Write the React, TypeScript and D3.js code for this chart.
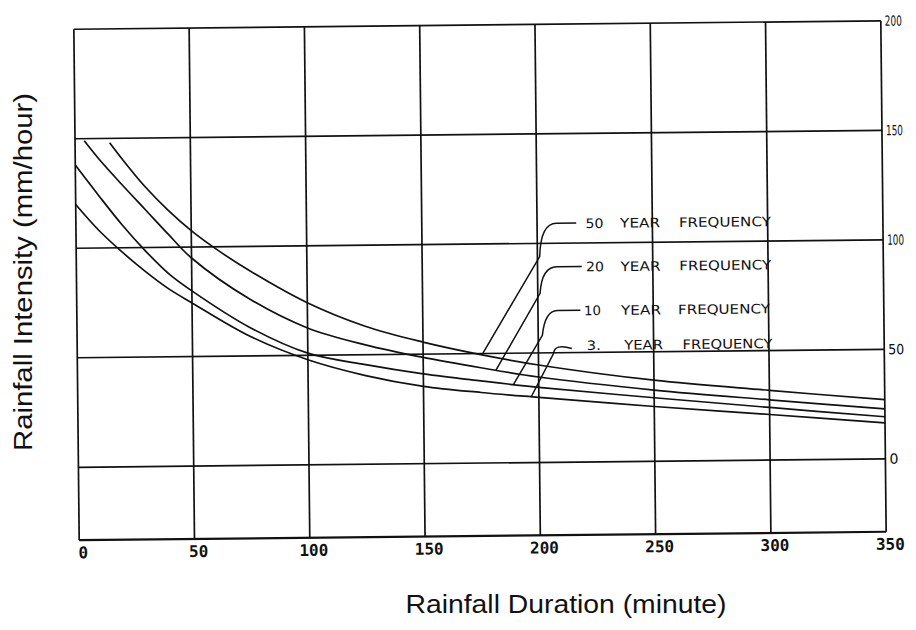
import React from 'react';
import * as d3 from 'd3';

// Axis ticks
const durationTicks = [0, 50, 100, 150, 200, 250, 300, 350];
const intensityTicks = [0, 50, 100, 150, 200];

// 50 year frequency
const dur50 = [15, 20, 30, 40, 50, 60, 75, 100, 125, 150, 175, 200, 250, 300, 350];
const int50 = [148, 141, 128, 117, 107.5, 99.5, 89, 74, 63, 55.5, 49.5, 44.5, 37, 31.8, 27];
// 20 year frequency
const dur20 = [4, 10, 20, 30, 40, 50, 75, 100, 125, 150, 175, 200, 250, 300, 350];
const int20 = [149, 141, 129, 117.5, 106, 95, 76, 62.5, 54.5, 48.5, 43.5, 39, 32.5, 27.5, 22.8];
// 10 year frequency
const dur10 = [0, 10, 20, 30, 40, 50, 75, 100, 125, 150, 175, 200, 250, 300, 350];
const int10 = [138, 124, 110.5, 98.5, 88, 80, 63, 51, 45.5, 41, 37.5, 34.3, 29, 24, 19.2];
// 3 year frequency
const dur3 = [0, 10, 20, 30, 40, 50, 75, 100, 125, 150, 175, 200, 250, 300, 350];
const int3 = [120, 108, 98, 89, 81, 74.5, 59, 48, 40.5, 35.3, 32.2, 29.7, 25, 20.8, 16.4];

const seriesNames = ['50', '20', '10', '3.'];

export default function App() {
  const W = 916, H = 630;
  const L = 76.5, R = 883.5, T = 25, B = 536;
  const x = d3.scaleLinear().domain([0, 350]).range([L, R]);
  const y = d3.scaleLinear().domain([-33.3, 200]).range([B, T]);

  const series = [
    { name: seriesNames[0], t: dur50, v: int50 },
    { name: seriesNames[1], t: dur20, v: int20 },
    { name: seriesNames[2], t: dur10, v: int10 },
    { name: seriesNames[3], t: dur3, v: int3 },
  ];

  const line = d3
    .line<[number, number]>()
    .x((d) => x(d[0]))
    .y((d) => y(d[1]))
    .curve(d3.curveCatmullRom.alpha(0.5));

  const valueAt = (s: { t: number[]; v: number[] }, t: number) =>
    d3.scaleLinear().domain(s.t).range(s.v)(t);

  // leader geometry in data units (minutes, mm/hour)
  const leaders = [
    { row: 109.1, dashR: 217, dashL: 208.4, cT: 201.5, eT: 201, eV: 94, hit: 175.5, hook: false },
    { row: 89.3, dashR: 219.2, dashL: 208.4, cT: 201.8, eT: 201, eV: 77.2, hit: 181.5, hook: false },
    { row: 69.3, dashR: 218.4, dashL: 208.4, cT: 203, eT: 201.8, eV: 58, hit: 189, hook: false },
    { row: 53.4, dashR: 214.5, dashL: 214.5, cT: 207, eT: 206.5, eV: 49.5, hit: 196.7, hook: true },
  ];
  const wordT = [221, 236, 261.5];
  const wordW = [
    [18, 40, 92],
    [18, 40, 92],
    [17, 40, 92],
    [14, 39, 90],
  ];
  const wordDT = [
    [0, 0, 0],
    [0, 0, 0],
    [-1, 0, -0.8],
    [0, 1.2, 1],
  ];

  const stroke = '#111';
  const gridW = 1.7;

  return (
    <svg
      width={W}
      height={H}
      style={{ position: 'absolute', left: 0, top: 0, display: 'block' }}
    >
      <rect width={W} height={H} fill="#fff" />
      <g transform="rotate(-0.6 480 280)">
        {durationTicks.map((d) => (
          <line key={'v' + d} x1={x(d)} x2={x(d)} y1={T} y2={B} stroke={stroke} strokeWidth={gridW} />
        ))}
        {intensityTicks.map((v) => (
          <line key={'h' + v} x1={L} x2={R} y1={y(v)} y2={y(v)} stroke={stroke} strokeWidth={gridW} />
        ))}
        <line x1={L} x2={R} y1={B} y2={B} stroke={stroke} strokeWidth={2.2} />

        {series.map((s) => (
          <path
            key={s.name}
            d={line(s.t.map((t, i) => [t, s.v[i]] as [number, number])) || ''}
            fill="none"
            stroke={stroke}
            strokeWidth={1.7}
          />
        ))}

        {durationTicks.map((d) => (
          <text
            key={'xl' + d}
            x={x(d) + 4}
            y={B + 18}
            textAnchor="middle"
            fontFamily="DejaVu Sans Mono"
            fontWeight="bold"
            fontSize={16}
            fill={stroke}
          >
            {d}
          </text>
        ))}
        {intensityTicks.map((v) => {
          const s = String(v);
          return (
            <text
              key={'yl' + v}
              x={R + 4}
              y={y(v) + 5}
              fontFamily="DejaVu Sans"
              fontSize={14}
              fill={stroke}
              textLength={s.length === 3 ? 17 : s.length === 2 ? 16 : 9}
              lengthAdjust="spacingAndGlyphs"
            >
              {s}
            </text>
          );
        })}

        {series.map((s, i) => {
          const a = leaders[i];
          const hv = valueAt(s, a.hit);
          const d = a.hook
            ? `M${x(a.dashR)},${y(a.row - 1.5)} Q${x(a.cT)},${y(a.row + 1)} ${x(a.eT)},${y(a.eV)} L${x(a.hit)},${y(hv)}`
            : `M${x(a.dashR)},${y(a.row)} H${x(a.dashL)} Q${x(a.cT)},${y(a.row)} ${x(a.eT)},${y(a.eV)} L${x(a.hit)},${y(hv)}`;
          const words = [s.name, 'YEAR', 'FREQUENCY'];
          return (
            <g key={'lab' + s.name}>
              <path d={d} fill="none" stroke={stroke} strokeWidth={1.5} />
              {words.map((w, k) => (
                <text
                  key={w}
                  x={x(wordT[k] + wordDT[i][k])}
                  y={y(a.row) + 5}
                  fontFamily="DejaVu Sans"
                  fontSize={13}
                  fill={stroke}
                  textLength={wordW[i][k]}
                  lengthAdjust="spacingAndGlyphs"
                >
                  {w}
                </text>
              ))}
            </g>
          );
        })}
      </g>

      <text
        transform="translate(32,272) rotate(-90)"
        textAnchor="middle"
        fontFamily="Liberation Sans, Arial, sans-serif"
        fontSize={25}
        fill={stroke}
        textLength={358}
        lengthAdjust="spacingAndGlyphs"
      >
        Rainfall Intensity (mm/hour)
      </text>
      <text
        x={566}
        y={613}
        textAnchor="middle"
        fontFamily="Liberation Sans, Arial, sans-serif"
        fontSize={25}
        fill={stroke}
        textLength={321}
        lengthAdjust="spacingAndGlyphs"
      >
        Rainfall Duration (minute)
      </text>
    </svg>
  );
}
